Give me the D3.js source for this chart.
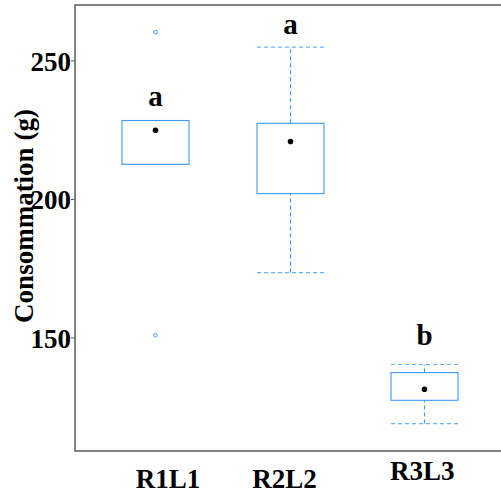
<!DOCTYPE html>
<html>
<head>
<meta charset="utf-8">
<script src="https://cdn.jsdelivr.net/npm/d3@7"></script>
<style>
  body { margin: 0; background: #fff; }
  text { font-family: "Liberation Serif", "Times New Roman", serif; font-weight: bold; }
</style>
</head>
<body>
<div id="chart-div"></div>
<script>
// data
var categories = ["R1L1", "R2L2", "R3L3"];
var q1 = [212.5, 201.9, 127.3];
var q3 = [228.3, 227.3, 137.3];
var whisk_lo = [212.5, 173.4, 118.9];
var whisk_hi = [228.3, 254.8, 140.2];
var means = [224.8, 220.7, 131.3];
var outliers = [[260.2, 150.8], [], []];
var letters = ["a", "a", "b"];
var letter_y = [233.5, 259.5, 147.3];
var y_ticks = [150, 200, 250];

var w = 501, h = 491;
var panel = {left: 75, top: 5, width: 429, bottom: 451};
var blue = "#3d9bff";
// the x labels are not centred the same way in the original
var label_dx = [12.6, -5, -1.4];
var label_base = [488, 488, 480];

var svg = d3.select("#chart-div")
    .append("svg")
    .attr("width", w)
    .attr("height", h);

var x = d3.scalePoint()
    .domain(categories)
    .range([panel.left, panel.left + panel.width])
    .padding(0.6);
var y = d3.scaleLinear()
    .domain([109, 270])
    .range([panel.bottom, panel.top]);
var box_w = x.step() * 0.5;

// panel border
svg.append("rect")
    .attr("x", panel.left)
    .attr("y", panel.top)
    .attr("width", panel.width)
    .attr("height", panel.bottom - panel.top)
    .attr("fill", "none")
    .attr("stroke", "#333")
    .attr("stroke-width", 1.2);

// y axis
var y_axis = svg.append("g")
    .attr("transform", "translate(" + panel.left + ",0)")
    .call(d3.axisLeft(y).tickValues(y_ticks).tickSize(4).tickPadding(0));
y_axis.select(".domain").remove();
y_axis.selectAll(".tick line").attr("stroke", "#555");
y_axis.selectAll(".tick text")
    .attr("font-size", 27)
    .attr("fill", "#000")
    .attr("font-family", "Liberation Serif, serif")
    .attr("font-weight", "bold")
    .attr("dy", "0.36em");

// x labels (categories)
var x_lab = svg.append("g");
x_lab.selectAll("text")
    .data(categories)
    .enter()
    .append("text")
    .attr("x", function (d, i) { return x(d) + label_dx[i]; })
    .attr("y", function (d, i) { return label_base[i]; })
    .attr("text-anchor", "middle")
    .attr("font-size", 27)
    .text(function (d) { return d; });

// y title
svg.append("text")
    .attr("transform", "translate(33,216) rotate(-90)")
    .attr("text-anchor", "middle")
    .attr("font-size", 27)
    .text("Consommation (g)");

var boxes = svg.append("g");
categories.forEach(function (c, i) {
    var cx = Math.round(x(c)) + 0.5;
    var g = boxes.append("g");
    // whiskers
    [[q3[i], whisk_hi[i]], [whisk_lo[i], q1[i]]].forEach(function (seg) {
        if (seg[0] === seg[1]) return;
        g.append("line")
            .attr("x1", cx).attr("x2", cx)
            .attr("y1", y(seg[0])).attr("y2", y(seg[1]))
            .attr("stroke", blue).attr("stroke-width", 1.2)
            .attr("stroke-dasharray", "4,3");
    });
    [whisk_lo[i], whisk_hi[i]].forEach(function (v) {
        g.append("line")
            .attr("x1", cx - box_w / 2).attr("x2", cx + box_w / 2)
            .attr("y1", y(v)).attr("y2", y(v))
            .attr("stroke", "#66b2ff").attr("stroke-width", 1.1)
            .attr("stroke-dasharray", "4,3");
    });
    g.append("rect")
        .attr("x", cx - box_w / 2)
        .attr("y", y(q3[i]))
        .attr("width", box_w)
        .attr("height", y(q1[i]) - y(q3[i]))
        .attr("fill", "#fff")
        .attr("stroke", blue)
        .attr("stroke-width", 1.1);
    g.append("circle")
        .attr("cx", cx).attr("cy", y(means[i]))
        .attr("r", 2.8)
        .attr("fill", "#000");
    g.selectAll(".out")
        .data(outliers[i])
        .enter()
        .append("circle")
        .attr("class", "out")
        .attr("cx", cx)
        .attr("cy", function (d) { return y(d); })
        .attr("r", 1.8)
        .attr("fill", "none")
        .attr("stroke", blue)
        .attr("stroke-width", 1);
    g.append("text")
        .attr("x", cx)
        .attr("y", y(letter_y[i]))
        .attr("text-anchor", "middle")
        .attr("font-size", 29)
        .text(letters[i]);
});
</script>
</body>
</html>
